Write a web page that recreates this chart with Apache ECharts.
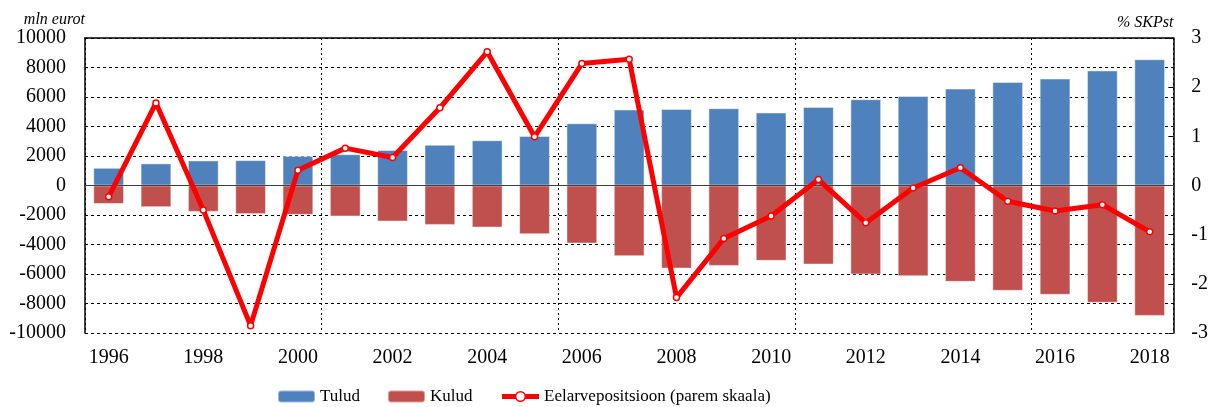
<!DOCTYPE html>
<html>
<head>
<meta charset="utf-8">
<script src="https://cdn.jsdelivr.net/npm/echarts@6/dist/echarts.min.js"></script>
<style>
  html, body { margin: 0; padding: 0; background: #fff; }
  #chart { width: 1211px; height: 407px; }
</style>
</head>
<body>
<div id="chart"></div>
<script>
var years = ['1996', '1997', '1998', '1999', '2000', '2001', '2002', '2003', '2004', '2005', '2006', '2007',
    '2008', '2009', '2010', '2011', '2012', '2013', '2014', '2015', '2016', '2017', '2018'];
var tulud = [1200, 1500, 1700, 1720, 2000, 2120, 2410, 2760, 3070, 3360, 4220, 5150,
    5190, 5240, 4950, 5330, 5850, 6070, 6570, 7020, 7250, 7800, 8560];
var kulud = [-1250, -1470, -1790, -1940, -1990, -2100, -2440, -2670, -2850, -3300, -3930, -4790,
    -5630, -5450, -5110, -5360, -6030, -6150, -6530, -7140, -7410, -7950, -8840];
var positsioon = [-0.23, 1.68, -0.50, -2.85, 0.31, 0.76, 0.57, 1.58, 2.72, 0.99, 2.48, 2.57,
    -2.28, -1.08, -0.62, 0.12, -0.76, -0.05, 0.36, -0.32, -0.52, -0.39, -0.94];

var font = 'Liberation Serif';

var dom = document.getElementById('chart');
var myChart = echarts.init(dom);

var option = {
    animation: false,
    textStyle: { fontFamily: font, color: '#000' },
    grid: { left: 85, right: 36, top: 38, bottom: 74 },
    legend: {
        left: 272,
        top: 383,
        itemWidth: 37,
        itemHeight: 12,
        itemGap: 27,
        textStyle: { fontFamily: font, fontSize: 17, color: '#000' },
        data: [
            'Tulud',
            'Kulud',
            {
                name: 'Eelarvepositsioon (parem skaala)',
                lineStyle: { width: 5, color: '#FF0000' },
                itemStyle: { color: '#FFFFFF', borderColor: '#FF0000', borderWidth: 1.5 }
            }
        ]
    },
    xAxis: [
        {
            type: 'category',
            data: years,
            position: 'bottom',
            axisLine: { show: false, onZero: false },
            axisTick: { show: false },
            axisLabel: { interval: 1, fontSize: 20, color: '#000', fontFamily: font, margin: 15 },
            splitLine: { show: true, interval: 4, lineStyle: { color: '#000', type: [2, 3], width: 1 } }
        },
        {
            type: 'category',
            data: years,
            position: 'top',
            axisLine: { show: true, onZero: false, lineStyle: { color: '#000', width: 1.5 } },
            axisTick: { show: false },
            axisLabel: { show: false },
            splitLine: { show: false }
        }
    ],
    yAxis: [
        {
            type: 'value',
            min: -10000,
            max: 10000,
            interval: 2000,
            name: 'mln eurot',
            nameLocation: 'end',
            nameGap: 5,
            nameTextStyle: { fontFamily: font, fontStyle: 'italic', fontSize: 16, color: '#000', align: 'right' },
            axisLine: { show: true, lineStyle: { color: '#000', width: 1.5 } },
            axisTick: { show: false },
            axisLabel: {
                fontSize: 20, color: '#000', fontFamily: font, margin: 19,
                formatter: function (v) { return String(v); }
            },
            splitLine: { show: true, lineStyle: { color: '#000', type: [3, 3], width: 1 } }
        },
        {
            type: 'value',
            min: -3,
            max: 3,
            interval: 1,
            position: 'right',
            name: '% SKPst',
            nameLocation: 'end',
            nameGap: 7,
            nameTextStyle: { fontFamily: font, fontStyle: 'italic', fontSize: 16, color: '#000', align: 'right' },
            axisLine: { show: true, lineStyle: { color: '#000', width: 1.5 } },
            axisTick: { show: true, inside: true, length: 5, lineStyle: { color: '#000' } },
            axisLabel: { fontSize: 20, color: '#000', fontFamily: font, margin: 18 },
            splitLine: { show: false }
        }
    ],
    series: [
        {
            name: 'Tulud',
            type: 'bar',
            data: tulud,
            barWidth: '65%',
            barGap: '-100%',
            itemStyle: { color: '#4F81BD', borderColor: 'rgba(255,255,255,0.45)', borderWidth: 1 },
            markLine: {
                silent: true,
                symbol: 'none',
                label: { show: false },
                lineStyle: { color: '#404040', type: 'solid', width: 1.2 },
                data: [{ yAxis: 0 }]
            }
        },
        {
            name: 'Kulud',
            type: 'bar',
            data: kulud,
            barWidth: '65%',
            barGap: '-100%',
            itemStyle: { color: '#C0504D', borderColor: 'rgba(255,255,255,0.45)', borderWidth: 1 }
        },
        {
            name: 'Eelarvepositsioon (parem skaala)',
            type: 'line',
            yAxisIndex: 1,
            data: positsioon,
            symbol: 'circle',
            symbolSize: 6,
            lineStyle: { color: '#FF0000', width: 5 },
            itemStyle: { color: '#FFFFFF', borderColor: '#FF0000', borderWidth: 1.5 },
            z: 5
        }
    ]
};

myChart.setOption(option);

window.addEventListener('resize', function () {
    myChart.resize();
});
</script>
</body>
</html>
